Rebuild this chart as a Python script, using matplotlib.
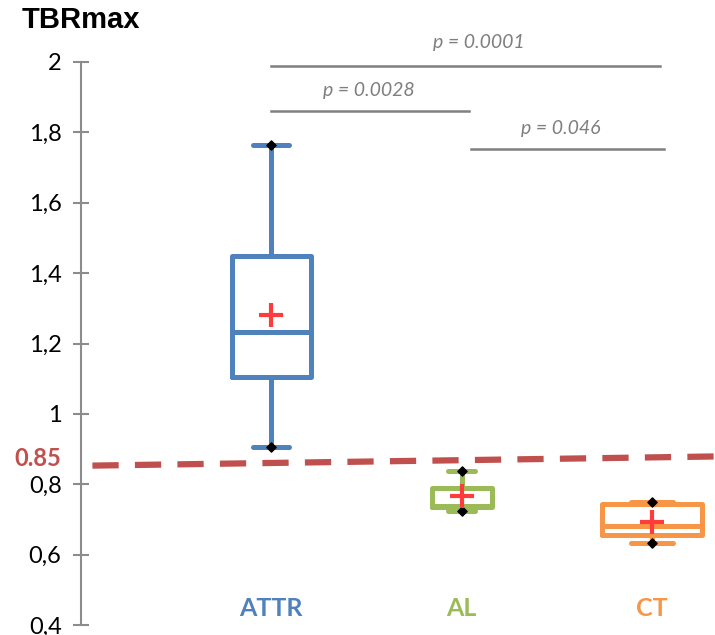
import matplotlib.pyplot as plt

# data
groups = ["ATTR", "AL", "CT"]
colors = ["#4F81BD", "#9BBB59", "#F79646"]
q1 = [1.104, 0.735, 0.655]
median = [1.233, 0.738, 0.681]
q3 = [1.448, 0.788, 0.743]
whis_low = [0.905, 0.724, 0.633]
whis_high = [1.764, 0.837, 0.749]
means = [1.281, 0.766, 0.694]

# comparisons: (from, to, y, label)
cmp_from = [1.0, 1.0, 2.05]
cmp_to = [3.04, 2.04, 3.06]
cmp_y = [1.990, 1.862, 1.752]
cmp_labels = ["p = 0.0001", "p = 0.0028", "p = 0.046"]
cmp_text_x = [2.09, 1.51, 2.52]
cmp_text_y = [2.054, 1.918, 1.812]

threshold_x = [0.06, 3.33]
threshold_y = [0.853, 0.879]

yticks = [0.4, 0.6, 0.8, 1.0, 1.2, 1.4, 1.6, 1.8, 2.0]
ytick_labels = ["0,4", "0,6", "0,8", "1", "1,2", "1,4", "1,6", "1,8", "2"]

fig = plt.figure(figsize=(7.15, 6.35), dpi=100)
ax = fig.add_axes([81 / 715, 10 / 635, 1 - 81 / 715, (625 - 62) / 635])

positions = [1, 2, 3]
widths = [0.415, 0.315, 0.525]
capwidths = [0.19, 0.14, 0.22]

for i, g in enumerate(groups):
    st = [dict(med=median[i], q1=q1[i], q3=q3[i], whislo=whis_low[i],
               whishi=whis_high[i], mean=means[i], fliers=[], label=g)]
    lp = dict(color=colors[i], linewidth=3.6, solid_capstyle="round",
              solid_joinstyle="round")
    ax.bxp(st, positions=[positions[i]], widths=[widths[i]],
           capwidths=[capwidths[i]], showfliers=False, showmeans=False,
           boxprops=lp, whiskerprops=lp, capprops=lp,
           medianprops=dict(color=colors[i], linewidth=3.6),
           manage_ticks=False, zorder=3)

ax.scatter(positions, whis_low, marker="D", s=22, color="black", zorder=5)
ax.scatter(positions, whis_high, marker="D", s=22, color="black", zorder=5)
ax.plot(positions, means, linestyle="none", marker="+", markersize=17,
        mew=3, color="#FF3B3B", zorder=6)

# threshold line
ax.plot(threshold_x, threshold_y, color="#C0504D", linewidth=4.5,
        dashes=(4.2, 2.6), zorder=2)
ax.text(-0.226, 0.874, "0.85", color="#C0504D", fontsize=17,
        fontweight="bold", family="Lato", ha="center", va="center",
        clip_on=False)

# significance bars
for x0, x1, y in zip(cmp_from, cmp_to, cmp_y):
    ax.plot([x0, x1], [y, y], color="#808080", linewidth=1.8,
            clip_on=False, zorder=2)
for x, y, t in zip(cmp_text_x, cmp_text_y, cmp_labels):
    ax.text(x, y, t, color="#7F7F7F", fontsize=14, style="italic",
            family="Lato", ha="center", va="center")

# category labels
for x, g, c in zip(positions, groups, colors):
    ax.text(x, 0.447, g, color=c, fontsize=18, fontweight="bold",
            family="Lato", ha="center", va="center")

ax.set_xlim(0, 3.33)
ax.set_ylim(0.4, 2.0)
ax.set_yticks(yticks)
ax.set_yticklabels(ytick_labels, family="Lato", fontsize=17)
ax.set_xticks([])
for s in ["top", "right", "bottom"]:
    ax.spines[s].set_visible(False)
ax.spines["left"].set_color("#8C8C8C")
ax.spines["left"].set_linewidth(1.5)
ax.tick_params(axis="y", direction="inout", length=12, width=1.5,
               color="#8C8C8C", pad=8)

fig.text(22 / 715, 1 - 20 / 635, "TBRmax", fontsize=21, fontweight="bold",
         family="Liberation Sans", ha="left", va="center")

fig.savefig("out.png", dpi=100)
